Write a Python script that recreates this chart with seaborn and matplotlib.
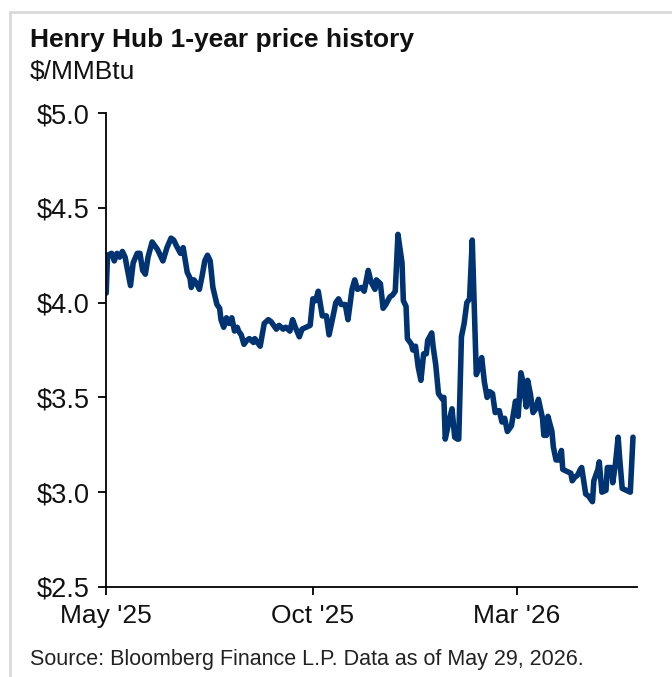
import pandas as pd
import matplotlib
matplotlib.use("Agg")
import matplotlib.pyplot as plt
import matplotlib.dates as mdates
from matplotlib.lines import Line2D
from matplotlib.ticker import FuncFormatter
import seaborn as sns

# Henry Hub daily-ish prices
dates = [
    "2025-05-01", "2025-05-02", "2025-05-05", "2025-05-07", "2025-05-09", "2025-05-11", "2025-05-13", "2025-05-15", "2025-05-19", "2025-05-21",
    "2025-05-24", "2025-05-26", "2025-05-28", "2025-05-30", "2025-06-01", "2025-06-04", "2025-06-06", "2025-06-08", "2025-06-12", "2025-06-15",
    "2025-06-18", "2025-06-20", "2025-06-22", "2025-06-25", "2025-06-27", "2025-06-30", "2025-07-02", "2025-07-03", "2025-07-05", "2025-07-07",
    "2025-07-09", "2025-07-11", "2025-07-13", "2025-07-15", "2025-07-17", "2025-07-19", "2025-07-22", "2025-07-24", "2025-07-25", "2025-07-27",
    "2025-07-29", "2025-07-31", "2025-08-02", "2025-08-04", "2025-08-06", "2025-08-07", "2025-08-09", "2025-08-11", "2025-08-13", "2025-08-15",
    "2025-08-18", "2025-08-19", "2025-08-21", "2025-08-23", "2025-08-26", "2025-08-29", "2025-08-31", "2025-09-02", "2025-09-04", "2025-09-06",
    "2025-09-09", "2025-09-11", "2025-09-14", "2025-09-16", "2025-09-18", "2025-09-21", "2025-09-23", "2025-09-26", "2025-09-29", "2025-10-01",
    "2025-10-03", "2025-10-05", "2025-10-08", "2025-10-11", "2025-10-13", "2025-10-16", "2025-10-18", "2025-10-20", "2025-10-22", "2025-10-25",
    "2025-10-27", "2025-10-30", "2025-11-01", "2025-11-03", "2025-11-06", "2025-11-08", "2025-11-11", "2025-11-13", "2025-11-16", "2025-11-17",
    "2025-11-20", "2025-11-22", "2025-11-24", "2025-11-27", "2025-11-29", "2025-12-01", "2025-12-03", "2025-12-06", "2025-12-07", "2025-12-09",
    "2025-12-10", "2025-12-13", "2025-12-14", "2025-12-16", "2025-12-18", "2025-12-20", "2025-12-22", "2025-12-24", "2025-12-25", "2025-12-28",
    "2025-12-29", "2025-12-31", "2026-01-02", "2026-01-05", "2026-01-06", "2026-01-07", "2026-01-10", "2026-01-12", "2026-01-14", "2026-01-16",
    "2026-01-17", "2026-01-19", "2026-01-21", "2026-01-23", "2026-01-25", "2026-01-27", "2026-01-30", "2026-02-01", "2026-02-03", "2026-02-05",
    "2026-02-07", "2026-02-09", "2026-02-11", "2026-02-13", "2026-02-16", "2026-02-18", "2026-02-20", "2026-02-22", "2026-02-25", "2026-02-28",
    "2026-03-02", "2026-03-04", "2026-03-05", "2026-03-08", "2026-03-09", "2026-03-11", "2026-03-13", "2026-03-15", "2026-03-17", "2026-03-20",
    "2026-03-21", "2026-03-23", "2026-03-24", "2026-03-27", "2026-03-28", "2026-03-30", "2026-04-01", "2026-04-03", "2026-04-04", "2026-04-07",
    "2026-04-10", "2026-04-11", "2026-04-13", "2026-04-15", "2026-04-17", "2026-04-18", "2026-04-21", "2026-04-23", "2026-04-26", "2026-04-27",
    "2026-04-30", "2026-05-01", "2026-05-03", "2026-05-06", "2026-05-07", "2026-05-10", "2026-05-11", "2026-05-13", "2026-05-15", "2026-05-16",
    "2026-05-18", "2026-05-21", "2026-05-24", "2026-05-26",
]
prices = [
    4.05, 4.25, 4.26, 4.22, 4.26, 4.24, 4.27, 4.24, 4.09, 4.21,
    4.26, 4.26, 4.17, 4.15, 4.24, 4.32, 4.30, 4.28, 4.22, 4.29,
    4.34, 4.33, 4.30, 4.26, 4.29, 4.16, 4.13, 4.08, 4.12, 4.10,
    4.07, 4.14, 4.22, 4.25, 4.22, 4.08, 3.99, 3.97, 3.91, 3.87,
    3.92, 3.89, 3.92, 3.85, 3.87, 3.85, 3.83, 3.78, 3.80, 3.81,
    3.79, 3.81, 3.79, 3.77, 3.89, 3.91, 3.90, 3.88, 3.86, 3.88,
    3.86, 3.87, 3.85, 3.91, 3.87, 3.82, 3.86, 3.87, 3.88, 4.02,
    4.01, 4.06, 3.93, 3.93, 3.83, 3.93, 4.00, 4.02, 3.99, 3.99,
    3.91, 4.07, 4.12, 4.07, 4.08, 4.06, 4.17, 4.11, 4.07, 4.12,
    4.10, 3.97, 3.99, 4.03, 4.04, 4.06, 4.36, 4.21, 4.01, 3.98,
    3.81, 3.78, 3.75, 3.77, 3.66, 3.59, 3.73, 3.73, 3.80, 3.84,
    3.77, 3.67, 3.52, 3.49, 3.50, 3.28, 3.38, 3.44, 3.29, 3.28,
    3.28, 3.82, 3.89, 4.00, 4.02, 4.33, 3.62, 3.66, 3.71, 3.58,
    3.50, 3.53, 3.52, 3.42, 3.43, 3.37, 3.39, 3.32, 3.35, 3.48,
    3.40, 3.63, 3.60, 3.45, 3.59, 3.52, 3.42, 3.44, 3.49, 3.39,
    3.30, 3.30, 3.40, 3.32, 3.24, 3.17, 3.17, 3.22, 3.12, 3.11,
    3.10, 3.06, 3.08, 3.09, 3.12, 3.13, 2.99, 2.98, 2.95, 3.06,
    3.12, 3.16, 3.00, 3.01, 3.13, 3.13, 3.05, 3.15, 3.29, 3.19,
    3.02, 3.01, 3.00, 3.29,
]
x_ticks = ["2025-05-01", "2025-10-01", "2026-03-01"]
y_ticks = [2.5, 3.0, 3.5, 4.0, 4.5, 5.0]

df = pd.DataFrame({"date": pd.to_datetime(dates), "price": prices})

sns.set_theme(style="white")
plt.rcParams["font.family"] = ["Liberation Sans", "DejaVu Sans"]

fig = plt.figure(figsize=(6.72, 6.77), dpi=100)
ax = fig.add_axes([0.158, 0.133, 0.790, 0.700])

sns.lineplot(data=df, x="date", y="price", ax=ax, color="#003371", linewidth=4.0,
             solid_joinstyle="round", solid_capstyle="round")

ax.set_ylim(2.5, 5.0)
ax.set_xlim(pd.Timestamp("2025-05-01"), pd.Timestamp("2026-05-29"))
ax.set_yticks(y_ticks)
ax.yaxis.set_major_formatter(FuncFormatter(lambda v, p: f"${v:.1f}"))
ax.set_xticks(pd.to_datetime(x_ticks))
ax.xaxis.set_major_formatter(mdates.DateFormatter("%b '%y"))
ax.set_xlabel("")
ax.set_ylabel("")

for side in ["top", "right"]:
    ax.spines[side].set_visible(False)
for side in ["left", "bottom"]:
    ax.spines[side].set_color("black")
    ax.spines[side].set_linewidth(1.3)
ax.tick_params(axis="both", direction="out", length=6, width=1.3, color="black",
               labelsize=19, labelcolor="#111111", left=True, bottom=True)
ax.tick_params(axis="y", pad=6.2, labelsize=19.5)
ax.tick_params(axis="x", pad=6)

# titles and source
fig.text(30 / 672, 1 - 40 / 677, "Henry Hub 1-year price history", fontsize=19,
         fontweight="bold", color="#111111", va="center", ha="left")
fig.text(30 / 672, 1 - 72 / 677, "$/MMBtu", fontsize=19, color="#111111",
         va="center", ha="left")
fig.text(30 / 672, 1 - 660 / 677, "Source: Bloomberg Finance L.P. Data as of May 29, 2026.",
         fontsize=15.5, color="#222222", va="center", ha="left")

# light grey frame on top and left
fig.add_artist(Line2D([10 / 672, 1.0], [1 - 12 / 677, 1 - 12 / 677],
                      color="#d9d9d9", linewidth=2, transform=fig.transFigure))
fig.add_artist(Line2D([10 / 672, 10 / 672], [0.0, 1 - 12 / 677],
                      color="#d9d9d9", linewidth=2, transform=fig.transFigure))

fig.savefig("out.png", dpi=100)
plt.close(fig)
